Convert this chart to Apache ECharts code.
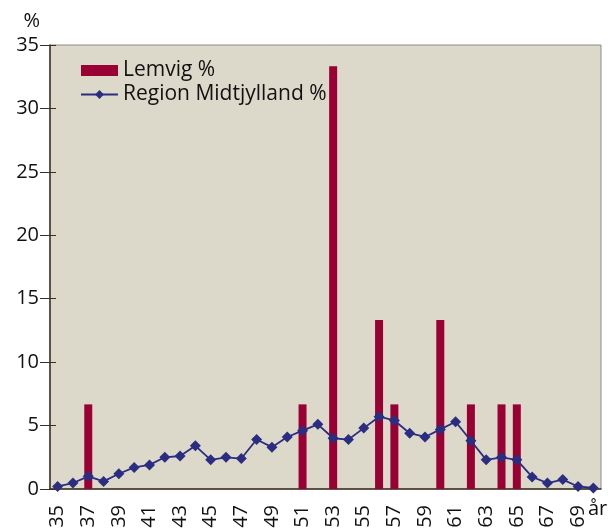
<!DOCTYPE html>
<html lang="da">
<head>
    <meta charset="UTF-8">
    <title>Lemvig</title>
    <script src="https://cdn.jsdelivr.net/npm/echarts@6/dist/echarts.min.js"></script>
</head>
<body style="margin:0">
<div id="main" style="width:614px;height:529px"></div>
<script>
    // alder 35..70
    var ages = [];
    for (var a = 35; a <= 70; a++) ages.push(String(a));

    var lemvig = [0, 0, 6.67, 0, 0, 0, 0, 0, 0, 0, 0, 0, 0, 0, 0, 0, 6.67, 0, 33.33, 0, 0, 13.33, 6.67, 0, 0, 13.33, 0, 6.67, 0, 6.67, 6.67, 0, 0, 0, 0, 0];
    var region = [0.2, 0.47, 1.0, 0.6, 1.2, 1.7, 1.9, 2.5, 2.6, 3.4, 2.3, 2.5, 2.4, 3.9, 3.3, 4.1, 4.6, 5.1, 4.0, 3.9, 4.8, 5.7, 5.4, 4.4, 4.1, 4.7, 5.3, 3.8, 2.3, 2.5, 2.3, 0.95, 0.47, 0.74, 0.2, 0.08];
    var yTicks = [0, 5, 10, 15, 20, 25, 30, 35];

    var axisCol = '#3d2f1e';
    var font = 'Open Sans';

    var myChart = echarts.init(document.getElementById('main'));
    var option = {
        backgroundColor: '#fff',
        textStyle: {fontFamily: font},
        animation: false,
        grid: {
            left: 50, right: 13, top: 45, bottom: 40,
            outerBoundsMode: 'none',
            containLabel: false,
            show: true,
            backgroundColor: '#dcd9cb',
            borderColor: '#8a8a8a',
            borderWidth: 1
        },
        legend: {
            left: 75, top: 55,
            orient: 'vertical',
            itemGap: 3,
            itemWidth: 37,
            itemHeight: 11,
            textStyle: {fontFamily: font, fontSize: 21, lineHeight: 21, color: '#111'},
            data: [
                {name: 'Lemvig %', icon: 'rect'},
                {name: 'Region Midtjylland %'}
            ]
        },
        xAxis: [{
            type: 'category',
            data: ages,
            axisLine: {lineStyle: {color: axisCol, width: 1.5}},
            axisTick: {length: 7, lineStyle: {color: axisCol}, interval: 0},
            axisLabel: {
                interval: 1, rotate: 90, fontSize: 20, color: '#111', margin: 16
            }
        }, {
            type: 'category',
            data: ages,
            position: 'bottom',
            axisLine: {show: false},
            axisTick: {inside: true, length: 6, lineStyle: {color: axisCol}, interval: 0},
            axisLabel: {show: false}
        }],
        yAxis: [{
            type: 'value',
            min: 0, max: 35, interval: 5,
            name: '%',
            nameLocation: 'end',
            nameGap: 14,
            nameTextStyle: {fontSize: 20, color: '#111', align: 'right', padding: [0, 10, 0, 0]},
            splitLine: {show: false},
            axisLine: {show: true, lineStyle: {color: axisCol, width: 1.5}},
            axisTick: {show: true, length: 10, lineStyle: {color: axisCol}},
            axisLabel: {fontSize: 20, color: '#111', margin: 11},
            data: yTicks
        }, {
            type: 'value',
            min: 0, max: 35, interval: 5,
            position: 'left',
            splitLine: {show: false},
            axisLine: {show: false},
            axisTick: {show: true, inside: true, length: 6, lineStyle: {color: axisCol}},
            axisLabel: {show: false}
        }],
        series: [{
            name: 'Lemvig %',
            type: 'bar',
            barWidth: 8,
            itemStyle: {color: '#990033'},
            data: lemvig
        }, {
            name: 'Region Midtjylland %',
            type: 'line',
            symbol: 'diamond',
            symbolSize: 11,
            showAllSymbol: true,
            itemStyle: {color: '#2b2d80'},
            lineStyle: {color: '#2b2d80', width: 1.8},
            data: region
        }],
        graphic: [{
            type: 'text',
            left: 588, top: 499,
            style: {text: 'år', fontSize: 20, fontFamily: font, fill: '#111'}
        }]
    };
    myChart.setOption(option);
</script>
</body>
</html>
